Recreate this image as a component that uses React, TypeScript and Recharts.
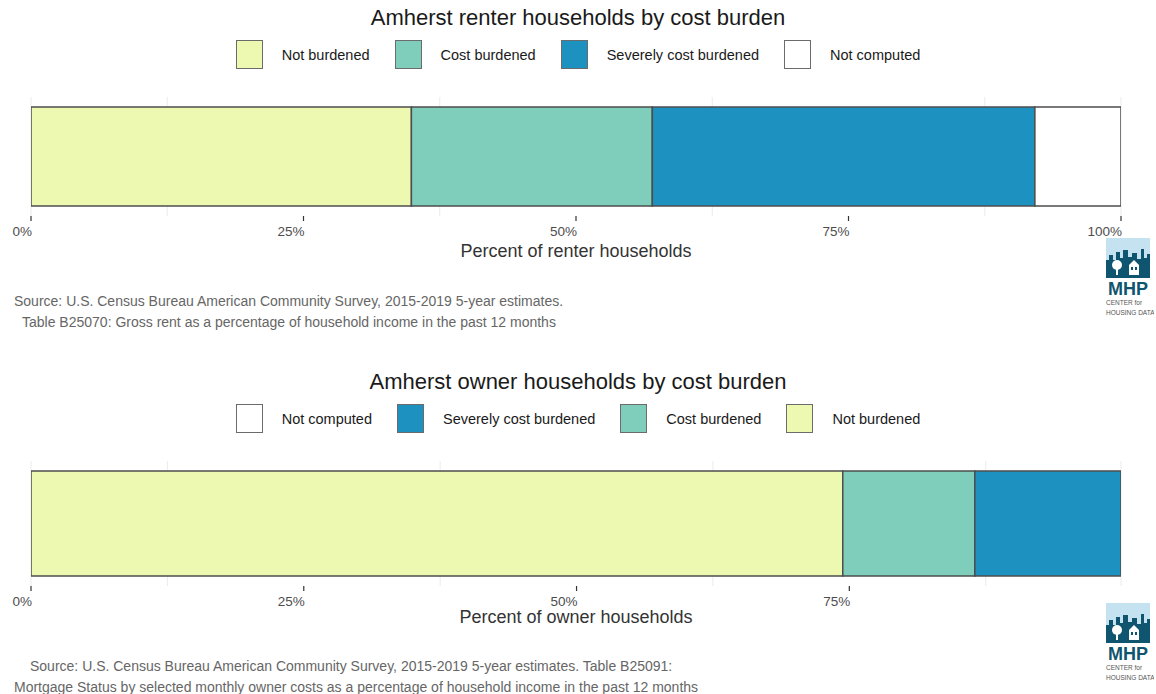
import React from 'react';
import { BarChart, Bar, XAxis, YAxis, CartesianGrid, Legend, Label } from 'recharts';

// Shares of households (percent), stacked left to right
const segmentNames = ['Not burdened', 'Cost burdened', 'Severely cost burdened', 'Not computed'];
const segmentKeys = ['notBurdened', 'costBurdened', 'severelyBurdened', 'notComputed'];
const segmentFills = ['#edf8b1', '#7fcdbb', '#1d91c0', '#ffffff'];

const renterShares = [34.9, 22.1, 35.1, 7.9];
const ownerShares = [74.4, 12.1, 13.4, 0];

const renterTicks = [0, 25, 50, 75, 100];
const ownerTicks = [0, 25, 50, 75];
const minorTicks = [12.5, 37.5, 62.5, 87.5];

const renterLegendOrder = [0, 1, 2, 3];
const ownerLegendOrder = [3, 2, 1, 0];

const FONT = '"Liberation Sans", Arial, Helvetica, sans-serif';
const WIDTH = 1156;

const toRow = (place: string, shares: number[]) =>
  segmentKeys.reduce((row: any, key, i) => ({ ...row, [key]: shares[i] }), { place });

function MhpLogo({ top }: { top: number }) {
  return (
    <svg width={50} height={82} style={{ position: 'absolute', left: 1104, top }}>
      <rect x={2} y={0} width={44} height={40} fill="#c4e2ef" />
      <path
        d="M2 40 L2 22 L5 22 L5 17 L9 17 L9 22 L12 22 L12 14 L16 14 L16 20 L19 20 L19 12 L24 12 L24 19 L28 19 L28 15 L33 15 L33 21 L37 21 L37 11 L40 11 L40 20 L43 20 L43 16 L46 16 L46 40 Z"
        fill="#0f5570"
      />
      <circle cx={13} cy={27} r={5} fill="#ffffff" />
      <rect x={12} y={30} width={2} height={7} fill="#ffffff" />
      <path d="M25 37 L25 27 L30 22 L35 27 L35 37 Z" fill="#ffffff" />
      <rect x={27} y={29} width={2} height={3} fill="#0f5570" />
      <rect x={31} y={29} width={2} height={3} fill="#0f5570" />
      <text x={24} y={57} textAnchor="middle" fontFamily={FONT} fontWeight="bold" fontSize={18} fill="#0f5570">
        MHP
      </text>
      <text x={2} y={67} fontFamily={FONT} fontSize={6.5} fill="#555">
        CENTER for
      </text>
      <text x={2} y={77} fontFamily={FONT} fontSize={6.5} fill="#555">
        HOUSING DATA
      </text>
    </svg>
  );
}

interface PanelProps {
  top: number;
  height: number;
  title: string;
  place: string;
  shares: number[];
  ticks: number[];
  legendOrder: number[];
  axisTitle: string;
  caption: { text: string; left: number }[];
  panelTop: number;
  panelBottom: number;
  tickDy: number;
  titleDy: number;
  captionTop: number;
  logoTop: number;
}

function BurdenPanel(p: PanelProps) {
  const total = p.shares.reduce((a, b) => a + b, 0);
  const data = [toRow(p.place, p.shares)];

  const renderLegend = () => (
    <div style={{ display: 'flex', justifyContent: 'center', alignItems: 'center', fontFamily: FONT }}>
      {p.legendOrder.map((i, n) => (
        <div key={segmentKeys[i]} style={{ display: 'flex', alignItems: 'center' }}>
          <div
            style={{
              width: 27,
              height: 29,
              boxSizing: 'border-box',
              border: '1.5px solid #6b6b6b',
              background: segmentFills[i],
              marginRight: 19,
            }}
          />
          <span style={{ fontSize: 14.5, color: '#1a1a1a', marginRight: n < p.legendOrder.length - 1 ? 25 : 0 }}>
            {segmentNames[i]}
          </span>
        </div>
      ))}
    </div>
  );

  const renderTick = ({ x, y, payload }: any) => (
    <text x={x + 1} y={y + p.tickDy} textAnchor="end" fontFamily={FONT} fontSize={13.5} fill="#4d4d4d">
      {`${payload.value}%`}
    </text>
  );

  const renderAxisTitle = ({ viewBox }: any) => (
    <text
      x={viewBox.x + viewBox.width / 2}
      y={viewBox.y + p.titleDy}
      textAnchor="middle"
      fontFamily={FONT}
      fontSize={18}
      fill="#333333"
    >
      {p.axisTitle}
    </text>
  );

  return (
    <div style={{ position: 'absolute', left: 0, top: p.top, width: WIDTH, height: p.height }}>
      <div
        style={{
          position: 'absolute',
          top: 5,
          left: 0,
          width: WIDTH,
          textAlign: 'center',
          fontSize: 22,
          lineHeight: '26px',
          color: '#1a1a1a',
          fontFamily: FONT,
        }}
      >
        {p.title}
      </div>
      <BarChart
        width={WIDTH}
        height={p.height}
        data={data}
        layout="vertical"
        margin={{ top: p.panelTop, right: 35, left: 31, bottom: 0 }}
        barCategoryGap={10}
      >
        <CartesianGrid horizontal={false} xAxisId="minor" stroke="#ebebeb" strokeWidth={1} />
        <XAxis
          xAxisId="minor"
          type="number"
          domain={[0, total]}
          ticks={minorTicks}
          allowDataOverflow
          hide
        />
        <XAxis
          type="number"
          domain={[0, total]}
          ticks={p.ticks}
          allowDataOverflow
          axisLine={false}
          tickSize={5}
          tickLine={{ stroke: '#333333', strokeWidth: 1.2 }}
          tick={renderTick}
          height={p.height - p.panelBottom}
          interval={0}
        >
          <Label content={renderAxisTitle} />
        </XAxis>
        <YAxis type="category" dataKey="place" hide />
        <Legend
          layout="horizontal"
          verticalAlign="middle"
          align="center"
          wrapperStyle={{ top: p.panelTop - 57, left: 0, width: WIDTH, margin: 0 }}
          content={renderLegend}
        />
        {segmentKeys.map((key, i) => (
          <Bar
            key={key}
            dataKey={key}
            name={segmentNames[i]}
            stackId="share"
            fill={segmentFills[i]}
            stroke="#4d4d4d"
            strokeWidth={1.5}
            isAnimationActive={false}
          />
        ))}
      </BarChart>
      {p.caption.map((line, i) => (
        <div
          key={i}
          style={{
            position: 'absolute',
            left: line.left,
            top: p.captionTop + i * 21,
            fontSize: 14,
            lineHeight: '16px',
            color: '#666666',
            fontFamily: FONT,
            whiteSpace: 'nowrap',
          }}
        >
          {line.text}
        </div>
      ))}
      <MhpLogo top={p.logoTop} />
    </div>
  );
}

export default function App() {
  return (
    <div style={{ position: 'absolute', left: 0, top: 0, width: WIDTH, height: 694, background: '#ffffff' }}>
      <BurdenPanel
        top={0}
        height={350}
        title="Amherst renter households by cost burden"
        place="Amherst"
        shares={renterShares}
        ticks={renterTicks}
        legendOrder={renterLegendOrder}
        axisTitle="Percent of renter households"
        caption={[
          { text: 'Source: U.S. Census Bureau American Community Survey, 2015-2019 5-year estimates.', left: 14 },
          { text: 'Table B25070: Gross rent as a percentage of household income in the past 12 months', left: 22 },
        ]}
        panelTop={97}
        panelBottom={216}
        tickDy={13}
        titleDy={41}
        captionTop={293}
        logoTop={238}
      />
      <BurdenPanel
        top={364}
        height={330}
        title="Amherst owner households by cost burden"
        place="Amherst"
        shares={ownerShares}
        ticks={ownerTicks}
        legendOrder={ownerLegendOrder}
        axisTitle="Percent of owner households"
        caption={[
          {
            text: 'Source: U.S. Census Bureau American Community Survey, 2015-2019 5-year estimates. Table B25091:',
            left: 30,
          },
          {
            text: 'Mortgage Status by selected monthly owner costs as a percentage of household income in the past 12 months',
            left: 14,
          },
        ]}
        panelTop={97}
        panelBottom={222}
        tickDy={13}
        titleDy={37}
        captionTop={294}
        logoTop={239}
      />
    </div>
  );
}
